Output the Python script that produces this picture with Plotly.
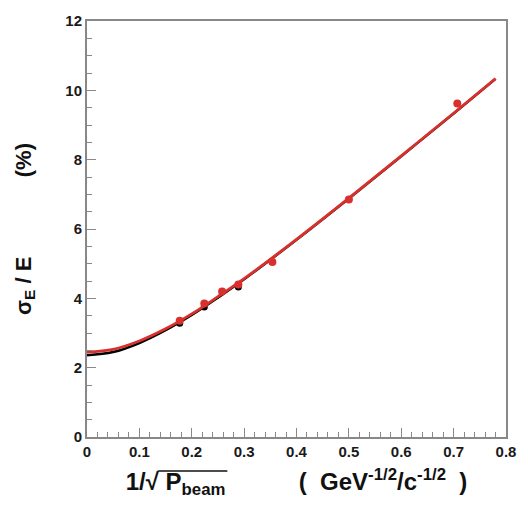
import plotly.graph_objects as go

# data points (1/sqrt(P), sigma_E/E in %)
x_red = [0.177, 0.224, 0.258, 0.289, 0.354, 0.500, 0.707]
y_red = [3.35, 3.85, 4.20, 4.40, 5.05, 6.85, 9.62]
x_black = [0.177, 0.224, 0.289]
y_black = [3.28, 3.75, 4.33]

# fitted curves
curve_x = [0.0, 0.05, 0.10, 0.15, 0.20, 0.25, 0.30, 0.40, 0.50, 0.60, 0.70, 0.78]
curve_red = [2.45, 2.53, 2.77, 3.12, 3.55, 4.05, 4.57, 5.70, 6.89, 8.11, 9.34, 10.34]
curve_black = [2.36, 2.45, 2.71, 3.08, 3.52, 4.02, 4.55, 5.69, 6.88, 8.10, 9.33, 10.33]

RED = "#d8302c"
FONT = "Liberation Sans"
TICKFONT = dict(family=FONT, size=15, color="#1a1a1a", weight="bold")

fig = go.Figure()
fig.add_trace(go.Scatter(x=curve_x, y=curve_black, mode="lines", line=dict(color="black", width=2.5, shape="spline"), hoverinfo="skip"))
fig.add_trace(go.Scatter(x=x_black, y=y_black, mode="markers", marker=dict(color="black", size=7)))
fig.add_trace(go.Scatter(x=curve_x, y=curve_red, mode="lines", line=dict(color=RED, width=2.8, shape="spline"), hoverinfo="skip"))
fig.add_trace(go.Scatter(x=x_red, y=y_red, mode="markers", marker=dict(color=RED, size=8)))

axis_common = dict(
    showgrid=False, zeroline=False, showline=True, linecolor="#888888", linewidth=2,
    mirror=True, ticks="inside", tickcolor="#888888", tickwidth=1,
    tickfont=TICKFONT,
)

fig.update_xaxes(
    range=[0, 0.8], dtick=0.1, ticklen=9, tickformat=".1~f",
    minor=dict(dtick=0.02, ticks="inside", ticklen=5, tickcolor="#888888"),
    title=dict(text="<b>1/√ P<sub>beam</sub>           (  GeV<sup>-1/2</sup>/c<sup>-1/2</sup>  )</b>",
               font=dict(family=FONT, size=24, color="#111111"), standoff=14),
    **axis_common,
)
fig.update_yaxes(
    range=[0, 12], dtick=2, ticklen=9,
    minor=dict(dtick=0.5, ticks="inside", ticklen=5, tickcolor="#888888"),
    title=dict(text="<b>σ<sub>E</sub> / E             (%)</b>",
               font=dict(family=FONT, size=22, color="#111111"), standoff=28),
    **axis_common,
)

# overline of the square-root sign in the x title
fig.add_shape(type="line", xref="paper", yref="paper",
              x0=0.170, x1=0.335, y0=-0.082, y1=-0.082,
              line=dict(color="#111111", width=1.5))

fig.update_layout(
    width=528, height=511, showlegend=False,
    margin=dict(l=87, r=21, t=17, b=74),
    plot_bgcolor="white", paper_bgcolor="white",
    font=dict(family=FONT),
)

fig.write_html("out.html")
